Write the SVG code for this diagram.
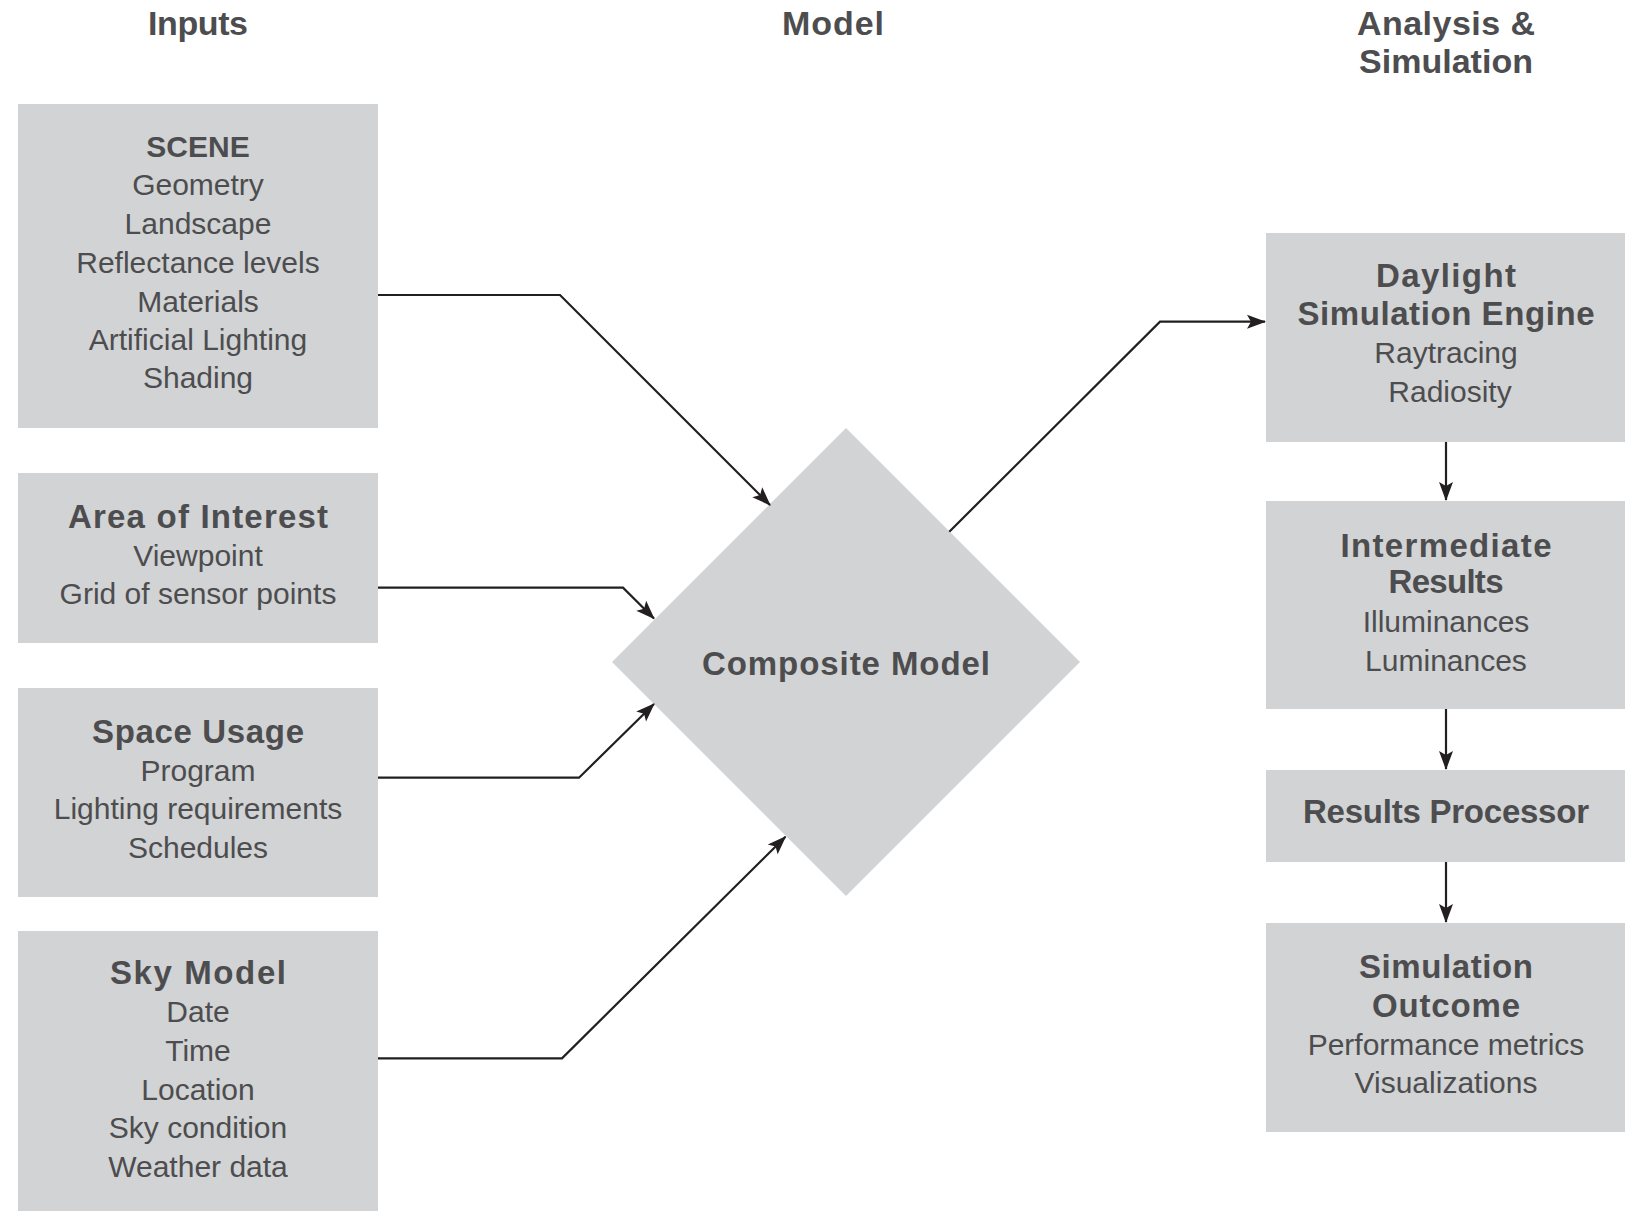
<svg xmlns="http://www.w3.org/2000/svg" width="1625" height="1211" viewBox="0 0 1625 1211">
<style>
.box{fill:#d1d3d4}
.h{font-family:"Liberation Sans",Arial,sans-serif;font-weight:bold;font-size:34px;fill:#4d4d4f;text-anchor:middle}
.b{font-family:"Liberation Sans",Arial,sans-serif;font-weight:bold;font-size:33px;fill:#4d4d4f;text-anchor:middle}
.t{font-family:"Liberation Sans",Arial,sans-serif;font-size:30px;fill:#4d4d4f;text-anchor:middle}
.c{fill:none;stroke:#231f20;stroke-width:2.2;marker-end:url(#ah)}
</style>
<defs>
<marker id="ah" markerUnits="userSpaceOnUse" viewBox="-20 -10 22 20" refX="0" refY="0" markerWidth="22" markerHeight="20" orient="auto">
<path d="M1,0 L-18,-7 L-14,0 L-18,7 Z" fill="#231f20"/>
</marker>
</defs>
<rect width="1625" height="1211" fill="#ffffff"/>
<g id="headers">
<text class="h" x="198" y="35" textLength="100">Inputs</text>
<text class="h" x="833" y="35" textLength="102">Model</text>
<text class="h" x="1446" y="35" textLength="178">Analysis &amp;</text>
<text class="h" x="1446" y="72.7" textLength="174">Simulation</text>
</g>
<g id="scene">
<rect class="box" x="18" y="104" width="360" height="324"/>
<text class="b" x="198" y="156.7" style="font-size:30px">SCENE</text>
<text class="t" x="198" y="195">Geometry</text>
<text class="t" x="198" y="234.3">Landscape</text>
<text class="t" x="198" y="273">Reflectance levels</text>
<text class="t" x="198" y="311.7">Materials</text>
<text class="t" x="198" y="350">Artificial Lighting</text>
<text class="t" x="198" y="388.3">Shading</text>
</g>
<g id="area">
<rect class="box" x="18" y="473" width="360" height="170"/>
<text class="b" x="198" y="527.7" textLength="260">Area of Interest</text>
<text class="t" x="198" y="566">Viewpoint</text>
<text class="t" x="198" y="604">Grid of sensor points</text>
</g>
<g id="space">
<rect class="box" x="18" y="688" width="360" height="209"/>
<text class="b" x="198" y="742.7" textLength="212">Space Usage</text>
<text class="t" x="198" y="780.7">Program</text>
<text class="t" x="198" y="819.3">Lighting requirements</text>
<text class="t" x="198" y="857.7">Schedules</text>
</g>
<g id="sky">
<rect class="box" x="18" y="931" width="360" height="280"/>
<text class="b" x="198" y="984" textLength="176">Sky Model</text>
<text class="t" x="198" y="1021.7">Date</text>
<text class="t" x="198" y="1060.7">Time</text>
<text class="t" x="198" y="1100">Location</text>
<text class="t" x="198" y="1138.3">Sky condition</text>
<text class="t" x="198" y="1176.7">Weather data</text>
</g>
<g id="composite">
<polygon class="box" points="846,428 1080,662 846,896 612,662"/>
<text class="b" x="846" y="675" textLength="288">Composite Model</text>
</g>
<g id="daylight">
<rect class="box" x="1266" y="233" width="359" height="209"/>
<text class="b" x="1446" y="287.3" textLength="140">Daylight</text>
<text class="b" x="1446" y="325" textLength="297">Simulation Engine</text>
<text class="t" x="1446" y="362.7">Raytracing</text>
<text class="t" x="1450" y="401.7">Radiosity</text>
</g>
<g id="intermediate">
<rect class="box" x="1266" y="501" width="359" height="208"/>
<text class="b" x="1446" y="556.7" textLength="211">Intermediate</text>
<text class="b" x="1446" y="593.3" textLength="115">Results</text>
<text class="t" x="1446" y="631.7">Illuminances</text>
<text class="t" x="1446" y="670.7">Luminances</text>
</g>
<g id="processor">
<rect class="box" x="1266" y="770" width="359" height="92"/>
<text class="b" x="1446" y="823.3" textLength="286">Results Processor</text>
</g>
<g id="outcome">
<rect class="box" x="1266" y="923" width="359" height="209"/>
<text class="b" x="1446" y="977.7" textLength="174">Simulation</text>
<text class="b" x="1446" y="1016.7" textLength="148">Outcome</text>
<text class="t" x="1446" y="1055">Performance metrics</text>
<text class="t" x="1446" y="1093.3">Visualizations</text>
</g>
<g id="connectors">
<path class="c" d="M378,295 H560 L770,505"/>
<path class="c" d="M378,587.7 H623 L654,618.5"/>
<path class="c" d="M378,777.7 H579 L654,704"/>
<path class="c" d="M378,1058.3 H562 L785.5,836.7"/>
<path class="c" d="M949.3,531.7 L1160,321.7 H1265"/>
<path class="c" d="M1446,442 V500"/>
<path class="c" d="M1446,709 V769"/>
<path class="c" d="M1446,862 V922"/>
</g>
</svg>
